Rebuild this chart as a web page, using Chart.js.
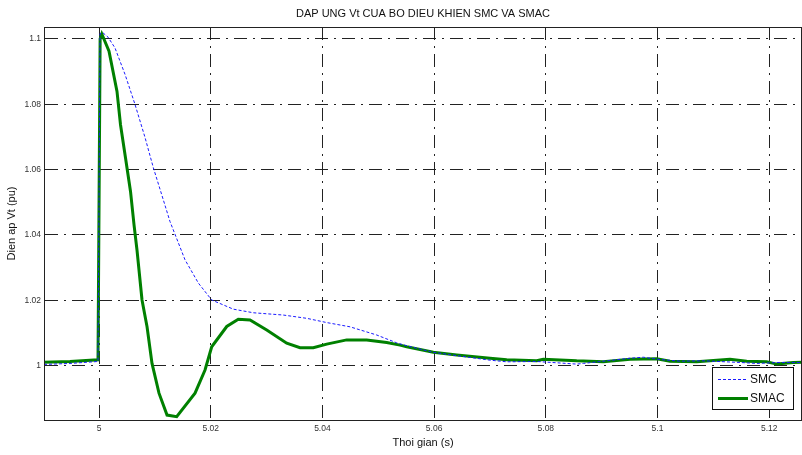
<!DOCTYPE html>
<html>
<head>
<meta charset="utf-8">
<script src="https://cdn.jsdelivr.net/npm/chart.js@4.4.0/dist/chart.umd.min.js"></script>
<style>
  body { margin: 0; background: #fff; }
</style>
</head>
<body>
<canvas id="myChart" width="802" height="455"></canvas>
<script>
// values
const smcTime = [4.99015, 4.9948, 4.99982, 5.00018, 5.00072, 5.00161, 5.00286, 5.00466, 5.00645, 5.00824, 5.00972,
  5.01123, 5.01271, 5.0154, 5.01778, 5.02018, 5.02405, 5.02763, 5.033, 5.03719,
  5.04077, 5.04494, 5.04972, 5.0533, 5.0551, 5.05986, 5.06405, 5.07001, 5.073, 5.07837,
  5.08195, 5.08553, 5.08672, 5.0909, 5.09508, 5.09746, 5.10045, 5.10403, 5.1082, 5.11477,
  5.11776, 5.12193, 5.12587];
const smcVt = [1.0004, 1.0007, 1.0013, 1.1016, 1.1018, 1.1005, 1.0972, 1.0891, 1.0799, 1.0698, 1.0606,
  1.0523, 1.0441, 1.0324, 1.0253, 1.0201, 1.0173, 1.0162, 1.0155, 1.0145,
  1.0132, 1.0119, 1.0094, 1.0070, 1.0061, 1.0041, 1.0031, 1.0017, 1.0012, 1.0013,
  1.0009, 1.0005, 1.0007, 1.0015, 1.0023, 1.0026, 1.0019, 1.0014, 1.0015, 1.0010,
  1.0007, 1.0010, 1.0010];

const smacTime = [4.99015, 4.9948, 4.99982, 5.0002, 5.0005, 5.00179, 5.00322, 5.00385, 5.00474, 5.00564,
  5.00627, 5.0068, 5.0077, 5.0086, 5.00949, 5.01074, 5.01218, 5.01391, 5.01719, 5.01898,
  5.02018, 5.02287, 5.02494, 5.02704, 5.03003, 5.03361, 5.03599, 5.03837, 5.04077, 5.04435,
  5.04793, 5.05151, 5.0539, 5.0551, 5.05986, 5.06405, 5.07001, 5.073, 5.07837, 5.07955,
  5.08553, 5.08791, 5.0903, 5.09508, 5.09986, 5.10224, 5.10702, 5.11298, 5.11597, 5.11955,
  5.12134, 5.12432, 5.12587];
const smacVt = [1.0011, 1.0013, 1.0018, 1.1000, 1.1015, 1.0962, 1.0839, 1.0737, 1.0636, 1.0533,
  1.0431, 1.0354, 1.0201, 1.0119, 1.0007, 0.9916, 0.9849, 0.9844, 0.9916, 0.9987,
  1.0058, 1.0120, 1.0142, 1.0140, 1.0109, 1.0069, 1.0055, 1.0055, 1.0066, 1.0079,
  1.0079, 1.0071, 1.0063, 1.0058, 1.0041, 1.0033, 1.0023, 1.0018, 1.0015, 1.0020,
  1.0015, 1.0014, 1.0012, 1.0020, 1.0021, 1.0014, 1.0012, 1.0020, 1.0014, 1.0012,
  1.0005, 1.0010, 1.0011];

const xTicks = [5, 5.02, 5.04, 5.06, 5.08, 5.1, 5.12];
const xTickLabels = ["5", "5.02", "5.04", "5.06", "5.08", "5.1", "5.12"];
const yTicks = [1, 1.02, 1.04, 1.06, 1.08, 1.1];
const yTickLabels = ["1", "1.02", "1.04", "1.06", "1.08", "1.1"];

const seriesNames = ["SMC", "SMAC"];
const chartTitle = "DAP UNG Vt CUA BO DIEU KHIEN SMC VA SMAC";
const xTitle = "Thoi gian (s)";
const yTitle = "Dien ap Vt (pu)";

const gridDash = [13, 6, 2, 6];
const tickFont = { family: "Liberation Sans", size: 8.5 };

const textPlugin = {
  id: "matlabText",
  afterDraw(chart) {
    const ctx = chart.ctx;
    const a = chart.chartArea;
    ctx.save();
    // box
    ctx.strokeStyle = "#222";
    ctx.lineWidth = 1;
    ctx.strokeRect(Math.round(a.left) + 0.5, Math.round(a.top) + 0.5, Math.round(a.right - a.left) - 1, Math.round(a.bottom - a.top));

    ctx.fillStyle = "#111";
    ctx.textAlign = "center";
    ctx.textBaseline = "middle";
    ctx.font = "11px 'Liberation Sans'";
    ctx.fillText(chartTitle, (a.left + a.right) / 2, 14);
    ctx.fillText(xTitle, (a.left + a.right) / 2, 443);
    ctx.save();
    ctx.translate(12, (a.top + a.bottom) / 2);
    ctx.rotate(-Math.PI / 2);
    ctx.fillText(yTitle, 0, 0);
    ctx.restore();

    // legend
    const lx = 712, ly = 367, lw = 81, lh = 42;
    ctx.fillStyle = "#fff";
    ctx.fillRect(lx, ly, lw, lh);
    ctx.strokeStyle = "#111";
    ctx.strokeRect(lx + 0.5, ly + 0.5, lw, lh);
    chart.data.datasets.forEach((ds, i) => {
      const yy = ly + 12 + i * 19;
      ctx.strokeStyle = ds.borderColor;
      ctx.lineWidth = ds.borderWidth;
      ctx.setLineDash(ds.borderDash || []);
      ctx.beginPath();
      ctx.moveTo(lx + 6, yy + 0.5);
      ctx.lineTo(lx + 36, yy + 0.5);
      ctx.stroke();
      ctx.setLineDash([]);
      ctx.fillStyle = "#111";
      ctx.textAlign = "left";
      ctx.font = "12px 'Liberation Sans'";
      ctx.fillText(ds.label, lx + 38, yy + 1);
    });
    ctx.restore();
  }
};

const ctx = document.getElementById("myChart").getContext("2d");
new Chart(ctx, {
  type: "line",
  data: {
    datasets: [
      {
        label: seriesNames[0],
        data: smcTime.map((t, i) => ({ x: t, y: smcVt[i] })),
        borderColor: "#1a1aff",
        borderWidth: 1,
        borderDash: [3, 2],
        pointRadius: 0,
        fill: false
      },
      {
        label: seriesNames[1],
        data: smacTime.map((t, i) => ({ x: t, y: smacVt[i] })),
        borderColor: "#008000",
        borderWidth: 3,
        pointRadius: 0,
        fill: false
      }
    ]
  },
  options: {
    responsive: false,
    animation: false,
    layout: { padding: { top: 27, left: 0, right: 0, bottom: 0 } },
    plugins: { legend: { display: false }, tooltip: { enabled: false } },
    elements: { line: { tension: 0 } },
    scales: {
      x: {
        type: "linear",
        min: 4.99015,
        max: 5.12587,
        afterBuildTicks: (s) => { s.ticks = xTicks.map((v) => ({ value: v })); },
        afterFit: (s) => { s.height = 35; },
        ticks: {
          callback: (v, i) => xTickLabels[i],
          font: tickFont,
          color: "#333",
          padding: 4,
          maxRotation: 0,
          autoSkip: false
        },
        grid: { color: "#222", lineWidth: 1, drawTicks: false },
        border: { display: true, color: "#222", width: 1, dash: gridDash }
      },
      y: {
        type: "linear",
        min: 0.9834,
        max: 1.1036,
        afterBuildTicks: (s) => { s.ticks = yTicks.map((v) => ({ value: v })); },
        afterFit: (s) => { s.width = 44; },
        ticks: {
          callback: (v, i) => yTickLabels[i],
          font: tickFont,
          color: "#333",
          padding: 3,
          autoSkip: false
        },
        grid: { color: "#222", lineWidth: 1, drawTicks: false },
        border: { display: true, color: "#222", width: 1, dash: gridDash }
      }
    }
  },
  plugins: [textPlugin]
});
</script>
</body>
</html>
